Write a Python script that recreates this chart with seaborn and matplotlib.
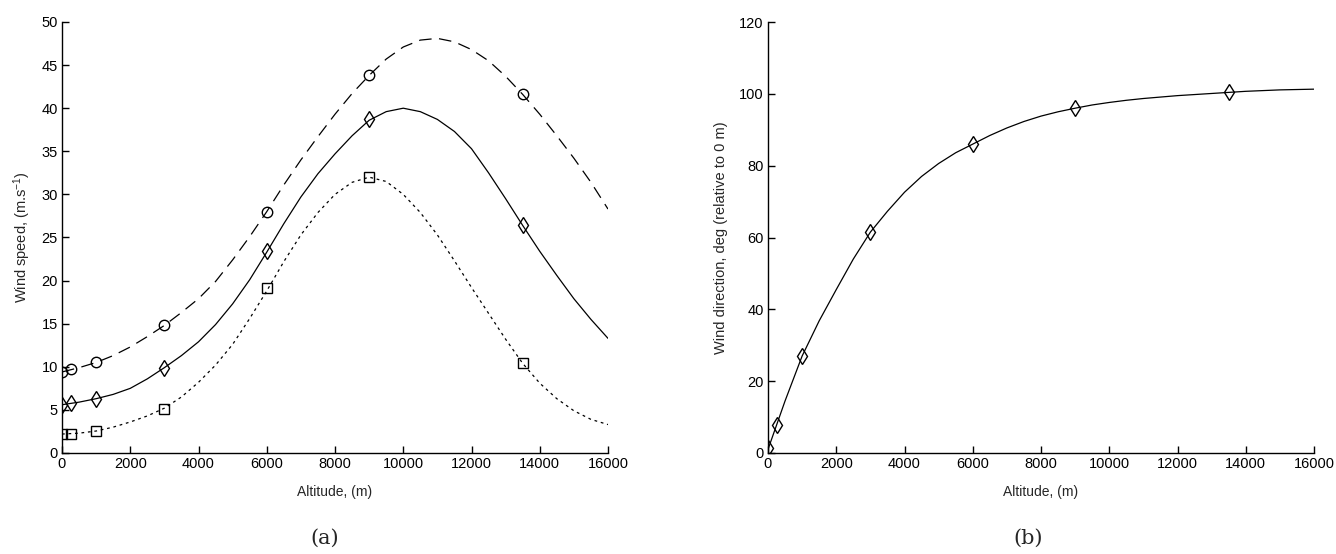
import numpy as np
import pandas as pd
import matplotlib
matplotlib.use("Agg")
import matplotlib.pyplot as plt
import seaborn as sns

# ---------------- data ----------------
alt_pts = [0, 250, 1000, 3000, 6000, 9000, 13500]
speed_circ = [9.4, 9.7, 10.5, 14.8, 28.0, 43.8, 41.6]
speed_diam = [5.6, 5.8, 6.3, 9.9, 23.4, 38.7, 26.4]
speed_sq = [2.2, 2.2, 2.6, 5.1, 19.1, 32.0, 10.4]

alt_curve = [0, 500, 1000, 1500, 2000, 2500, 3000, 3500, 4000, 4500, 5000,
             5500, 6000, 6500, 7000, 7500, 8000, 8500, 9000, 9500, 10000,
             10500, 11000, 11500, 12000, 12500, 13000, 13500, 14000, 14500,
             15000, 15500, 16000]
curve_dashed = [9.4, 9.9, 10.5, 11.3, 12.3, 13.5, 14.8, 16.3, 17.9, 19.9, 22.4,
                25.1, 28.0, 31.1, 34.0, 36.7, 39.3, 41.7, 43.8, 45.7, 47.1,
                47.9, 48.1, 47.7, 46.8, 45.5, 43.7, 41.6, 39.3, 36.8,
                34.2, 31.4, 28.3]
curve_solid = [5.6, 5.9, 6.3, 6.8, 7.5, 8.6, 9.9, 11.3, 12.9, 14.9, 17.3,
               20.1, 23.3, 26.6, 29.7, 32.4, 34.7, 36.8, 38.6, 39.6, 40.0,
               39.6, 38.7, 37.3, 35.3, 32.5, 29.5, 26.4, 23.4, 20.6,
               17.9, 15.5, 13.3]
curve_dotted = [2.2, 2.3, 2.55, 3.0, 3.6, 4.3, 5.2, 6.5, 8.2, 10.2, 12.6,
                15.6, 18.8, 22.2, 25.3, 27.9, 30.0, 31.4, 32.0, 31.5, 30.0,
                27.9, 25.3, 22.3, 19.2, 16.2, 13.2, 10.4, 8.1, 6.3,
                4.9, 3.9, 3.3]

dir_pts = [1.5, 7.8, 27.0, 61.5, 86.0, 96.0, 100.4]
dir_curve = [1.0, 14.5, 27.0, 36.8, 45.5, 54.0, 61.5, 67.3, 72.6, 77.0, 80.6,
             83.6, 86.0, 88.4, 90.5, 92.3, 93.8, 95.0, 96.0, 96.9, 97.6,
             98.2, 98.7, 99.1, 99.5, 99.8, 100.1, 100.4, 100.7, 100.9,
             101.1, 101.2, 101.3]

x_ticks = [0, 2000, 4000, 6000, 8000, 10000, 12000, 14000, 16000]
y_ticks_a = [0, 5, 10, 15, 20, 25, 30, 35, 40, 45, 50]
y_ticks_b = [0, 20, 40, 60, 80, 100, 120]

# ---------------- style ----------------
sns.set_style("ticks")
plt.rcParams["font.family"] = ["Liberation Sans", "DejaVu Sans"]
plt.rcParams["mathtext.fontset"] = "custom"
plt.rcParams["mathtext.rm"] = "Liberation Sans"
plt.rcParams["mathtext.it"] = "Liberation Sans"
plt.rcParams["xtick.direction"] = "in"
plt.rcParams["ytick.direction"] = "in"

fig = plt.figure(figsize=(13.36, 5.54), dpi=100)
ax1 = fig.add_axes([62/1336, 1-453/554, (608-62)/1336, (453-22)/554])
ax2 = fig.add_axes([768/1336, 1-453/554, (1314-768)/1336, (453-22)/554])

lw = 0.9
# ---- panel (a) ----
sns.lineplot(x=alt_curve, y=curve_dashed, ax=ax1, color="k", lw=lw,
             estimator=None, sort=False)
ax1.lines[-1].set_dashes([10, 6])
sns.lineplot(x=alt_curve, y=curve_solid, ax=ax1, color="k", lw=lw,
             estimator=None, sort=False)
sns.lineplot(x=alt_curve, y=curve_dotted, ax=ax1, color="k", lw=lw,
             estimator=None, sort=False)
ax1.lines[-1].set_dashes([2.2, 3.0])

sns.lineplot(x=alt_pts, y=speed_circ, ax=ax1, color="k", linestyle="",
             marker="o", ms=7.5, mfc="none", mec="k", mew=1.0,
             estimator=None, sort=False)
sns.lineplot(x=alt_pts, y=speed_diam, ax=ax1, color="k", linestyle="",
             marker="d", ms=8.5, mfc="none", mec="k", mew=1.0,
             estimator=None, sort=False)
sns.lineplot(x=alt_pts, y=speed_sq, ax=ax1, color="k", linestyle="",
             marker="s", ms=7.5, mfc="none", mec="k", mew=1.0,
             estimator=None, sort=False)

ax1.set_xlim(0, 16000)
ax1.set_ylim(0, 50)
ax1.set_xticks(x_ticks)
ax1.set_yticks(y_ticks_a)
ax1.set_xlabel("Altitude, (m)", fontsize=10, labelpad=10)
ax1.set_ylabel("Wind speed, (m.s$^{-1}$)", fontsize=10.5, labelpad=6)

# ---- panel (b) ----
sns.lineplot(x=alt_curve, y=dir_curve, ax=ax2, color="k", lw=lw,
             estimator=None, sort=False)
sns.lineplot(x=alt_pts, y=dir_pts, ax=ax2, color="k", linestyle="",
             marker="d", ms=8.5, mfc="none", mec="k", mew=1.0,
             estimator=None, sort=False)
ax2.set_xlim(0, 16000)
ax2.set_ylim(0, 120)
ax2.set_xticks(x_ticks)
ax2.set_yticks(y_ticks_b)
ax2.set_xlabel("Altitude, (m)", fontsize=10, labelpad=10)
ax2.set_ylabel("Wind direction, deg (relative to 0 m)", fontsize=10.5, labelpad=8)

for ax in (ax1, ax2):
    sns.despine(ax=ax)
    ax.tick_params(axis="both", labelsize=10.5, length=5, width=1.0,
                   colors="k", pad=3)
    for s in ("left", "bottom"):
        ax.spines[s].set_linewidth(1.0)
        ax.spines[s].set_color("k")
    ax.set_clip_on(False)

fig.text(325/1336, 1-538/554, "(a)", ha="center", va="center",
         fontsize=15, family=["DejaVu Serif"])
fig.text(1028/1336, 1-538/554, "(b)", ha="center", va="center",
         fontsize=15, family=["DejaVu Serif"])

fig.savefig("out.png", dpi=100, facecolor="white")
